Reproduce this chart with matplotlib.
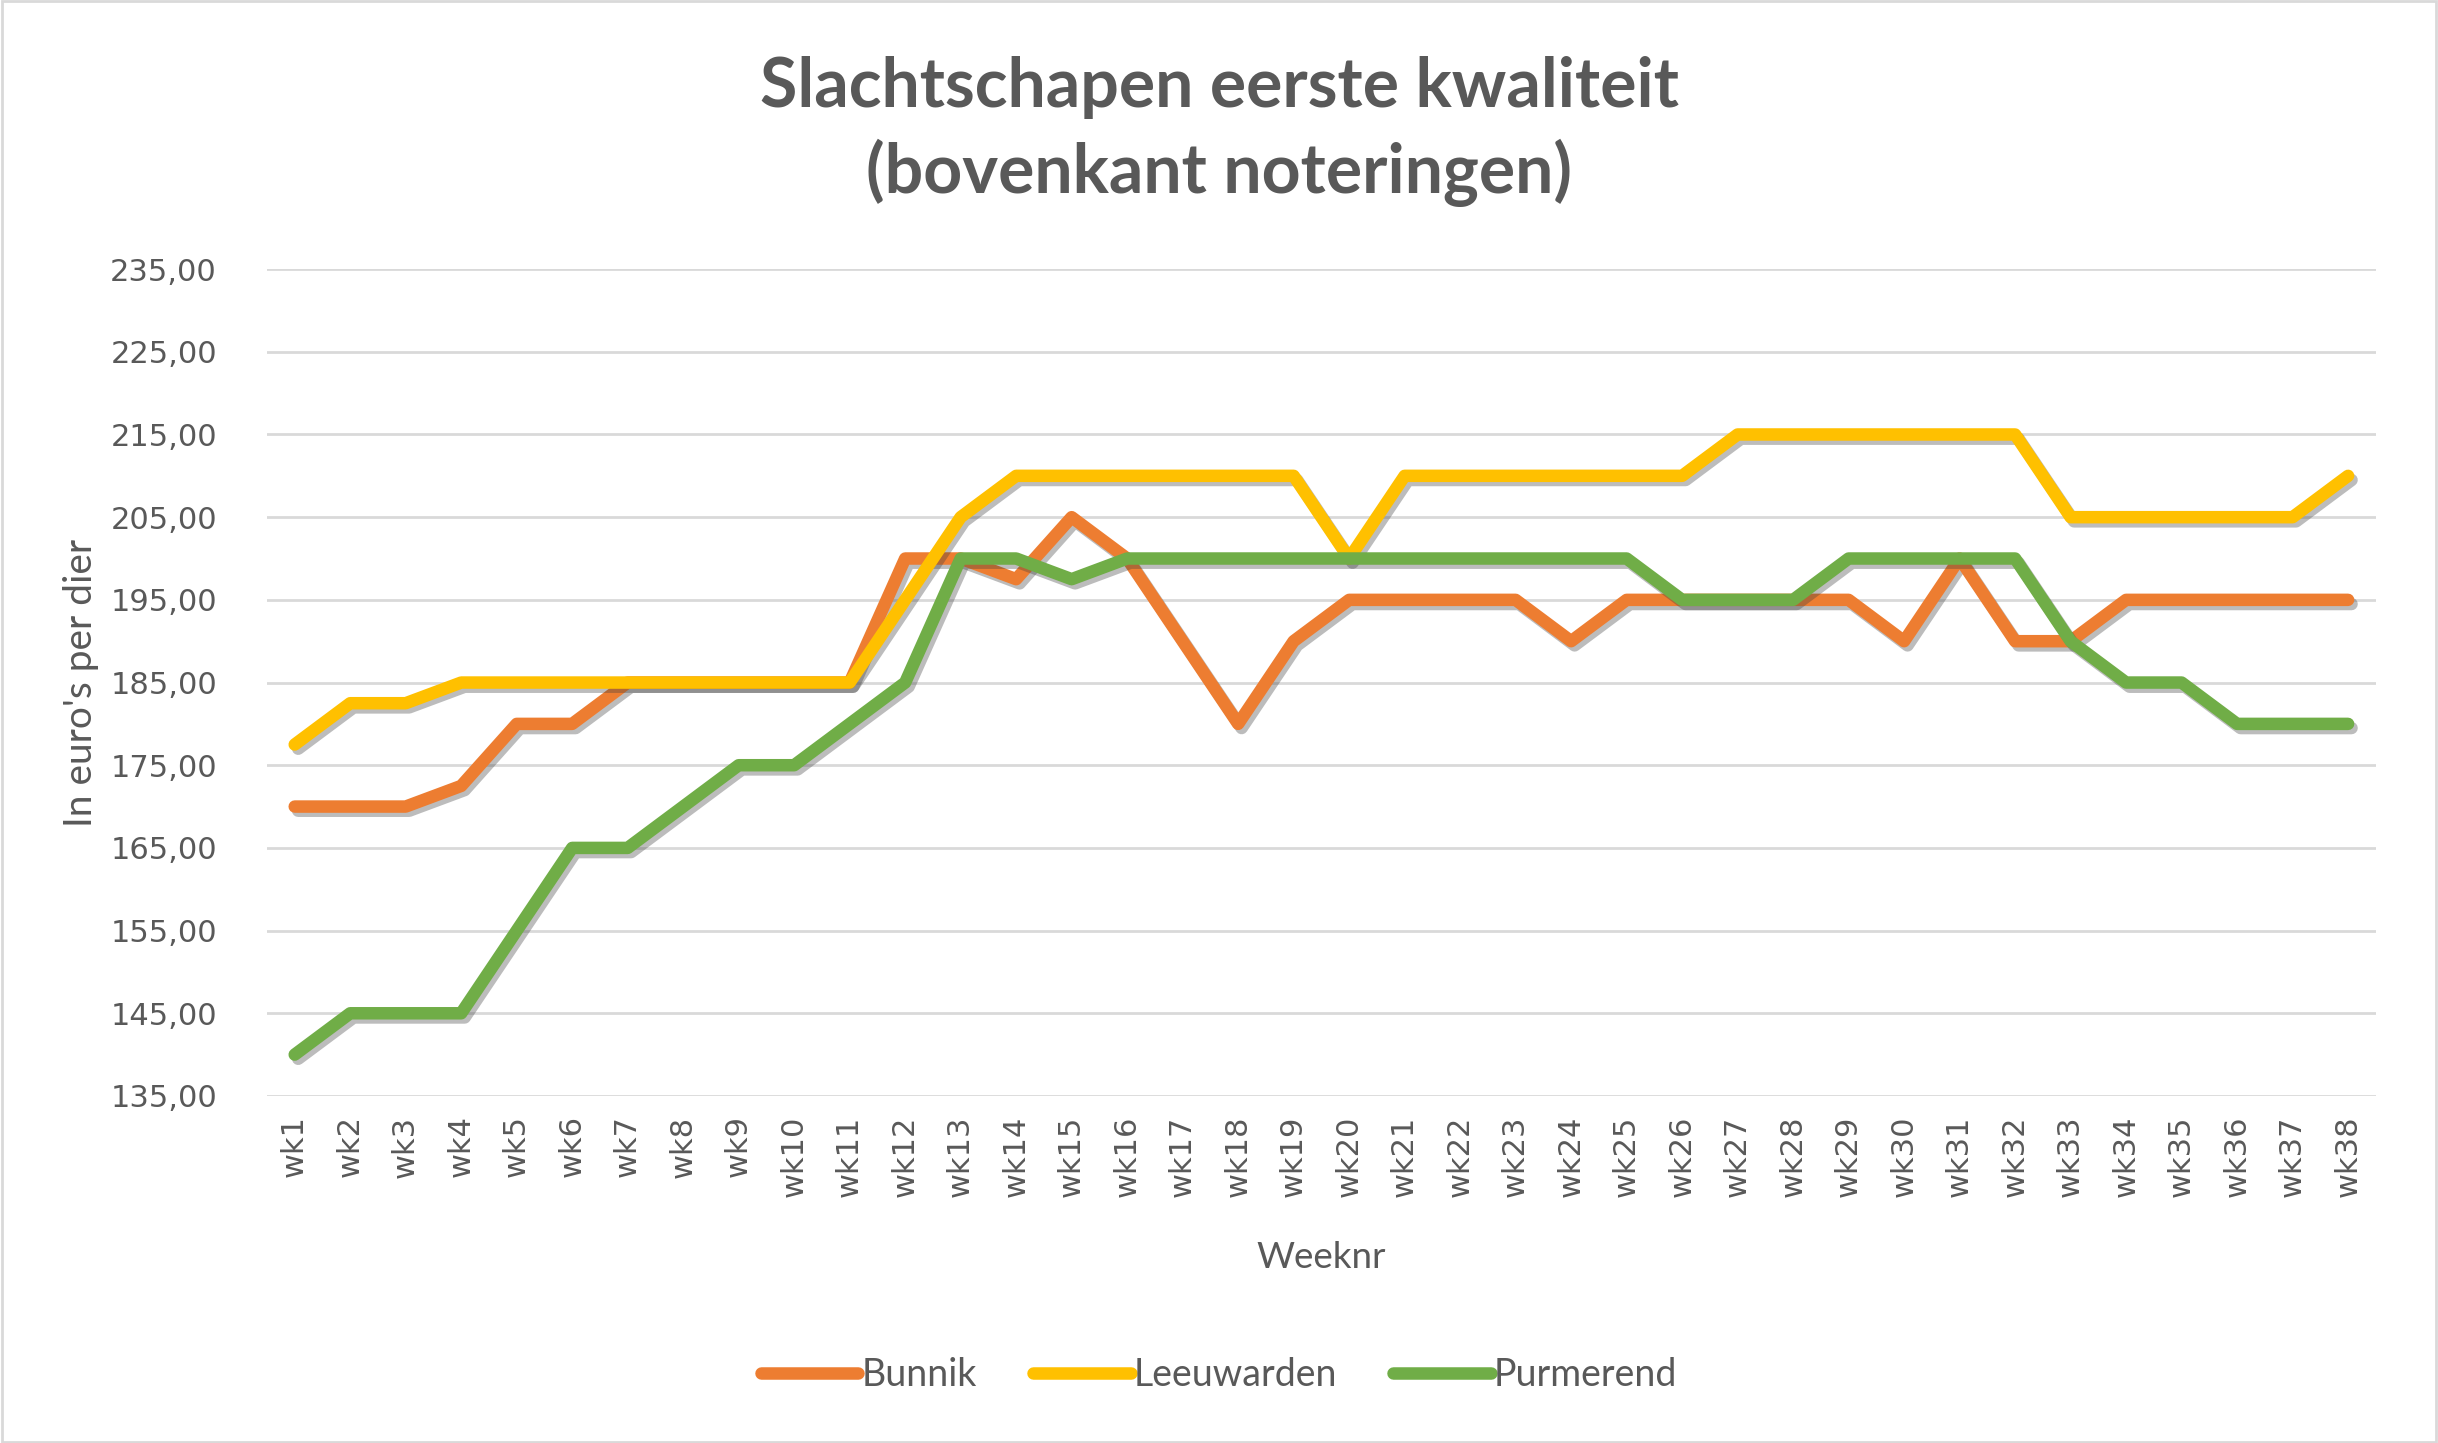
import numpy as np
import matplotlib
matplotlib.use("Agg")
import matplotlib.pyplot as plt
import matplotlib.patheffects as pe
from matplotlib.patches import Rectangle

# weekly top quotations, euro per animal
weeks = ["wk" + str(i) for i in range(1, 39)]

bunnik = [170, 170, 170, 172.5, 180, 180, 185, 185, 185, 185,
          185, 200, 200, 197.5, 205, 200, 190, 180, 190, 195,
          195, 195, 195, 190, 195, 195, 195, 195, 195, 190,
          200, 190, 190, 195, 195, 195, 195, 195]

leeuwarden = [177.5, 182.5, 182.5, 185, 185, 185, 185, 185, 185, 185,
              185, 195, 205, 210, 210, 210, 210, 210, 210, 200,
              210, 210, 210, 210, 210, 210, 215, 215, 215, 215,
              215, 215, 205, 205, 205, 205, 205, 210]

purmerend = [140, 145, 145, 145, 155, 165, 165, 170, 175, 175,
             180, 185, 200, 200, 197.5, 200, 200, 200, 200, 200,
             200, 200, 200, 200, 200, 195, 195, 195, 200, 200,
             200, 200, 190, 185, 185, 180, 180, 180]

series = [("Bunnik", bunnik, "#ED7D31"),
          ("Leeuwarden", leeuwarden, "#FFC000"),
          ("Purmerend", purmerend, "#70AD47")]

yticks = np.arange(135, 236, 10)

TXT = "#595959"
GRID = "#D9D9D9"

fig = plt.figure(figsize=(24.38, 14.43), dpi=100)
ax = fig.add_axes([0.1095, 0.2405, 0.865, 0.573])

x = np.arange(len(weeks))
shadow = [pe.SimpleLineShadow(offset=(2.5, -3), shadow_color="#404040", alpha=0.35), pe.Normal()]
for name, vals, col in series:
    ax.plot(x, vals, color=col, lw=9, label=name, solid_capstyle="round",
            solid_joinstyle="round", path_effects=shadow)

ax.set_xlim(-0.5, len(weeks) - 0.5)
ax.set_ylim(135, 235)
ax.set_yticks(yticks)
ax.set_yticklabels([("%.2f" % v).replace(".", ",") for v in yticks],
                   fontsize=22, color=TXT, family="DejaVu Sans")
ax.set_xticks(x)
ax.set_xticklabels(weeks, rotation=90, fontsize=22, color=TXT, family="DejaVu Sans")
ax.tick_params(length=0, pad=14)
ax.tick_params(axis="y", pad=36)
ax.grid(axis="y", color=GRID, lw=2)
ax.set_axisbelow(True)
for s in ax.spines.values():
    s.set_visible(False)

ax.set_ylabel("In euro's per dier", fontsize=28, color=TXT, family="Lato", labelpad=8)
ax.set_xlabel("Weeknr", fontsize=26.5, color=TXT, family="Lato", labelpad=32)

fig.text(0.5, 0.909, "Slachtschapen eerste kwaliteit\n(bovenkant noteringen)",
         ha="center", va="center", fontsize=49, fontweight="bold", color=TXT,
         family="Lato", linespacing=1.36)

leg = fig.legend(loc="center", bbox_to_anchor=(0.5, 0.047), ncol=3, frameon=False,
                 handlelength=2.6, handletextpad=0.08, columnspacing=1.5,
                 prop={"family": "Lato", "size": 27})
for t in leg.get_texts():
    t.set_color(TXT)
for h in leg.get_lines():
    h.set_linewidth(9)
    h.set_path_effects([])

fig.add_artist(Rectangle((0.001, 0.001), 0.998, 0.998, transform=fig.transFigure,
                         fill=False, edgecolor="#D9D9D9", lw=2))

fig.savefig("out.png", dpi=100, facecolor="white")
